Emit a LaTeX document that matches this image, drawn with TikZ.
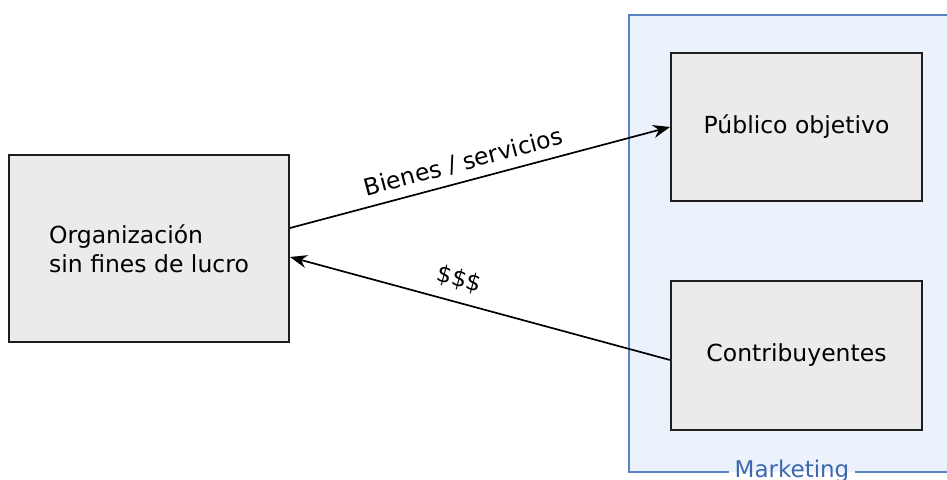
\documentclass[tikz,border=0pt]{standalone}
\usepackage{fontspec}
\setmainfont{DejaVu Sans}
\usetikzlibrary{arrows.meta}
\definecolor{boxfill}{HTML}{EBEBEB}
\definecolor{boxline}{HTML}{1E1E1E}
\definecolor{frfill}{HTML}{EBF2FC}
\definecolor{frline}{HTML}{5A82C4}
\definecolor{frtext}{HTML}{3D68B0}
\tikzset{
  entity/.style={draw=boxline, fill=boxfill, line width=2pt, inner sep=0pt,
    font=\fontsize{23.5}{29}\selectfont, align=left},
  flow/.style={draw=black, line width=1.7pt, -{Stealth[length=17pt,width=13pt]}},
  flowlabel/.style={font=\fontsize{23.5}{26}\selectfont, sloped, inner sep=2pt},
}
\begin{document}
\begin{tikzpicture}[x=1pt,y=-1pt]
\useasboundingbox (0,0) rectangle (947,479);
% Marketing frame
\fill[frfill] (629,15) rectangle (960,472);
\draw[frline, line width=1.8pt] (729,472) -- (629,472) -- (629,15) -- (960,15);
\draw[frline, line width=1.8pt] (855,472) -- (960,472);
\node[anchor=base, text=frtext, font=\fontsize{23}{26}\selectfont, inner sep=0pt] (mk) at (792,477) {Marketing};
% Boxes
\node[entity, minimum width=280pt, minimum height=187pt] (org) at (149,248.5) {Organización\\sin fines de lucro};
\node[entity, minimum width=251pt, minimum height=148pt] (pub) at (796.5,127) {Público objetivo};
\node[entity, minimum width=251pt, minimum height=149pt] (con) at (796.5,355.5) {Contribuyentes};
% Flows
\draw[flow] ([yshift=20.5pt]org.east) -- node[flowlabel, above=6pt, pos=0.47] {Bienes / servicios} (pub.west);
\draw[flow] ([yshift=-4.5pt]con.west) -- node[flowlabel, above=9pt, pos=0.57] {\$\$\$} ([yshift=-8.5pt]org.east);
\end{tikzpicture}
\end{document}
